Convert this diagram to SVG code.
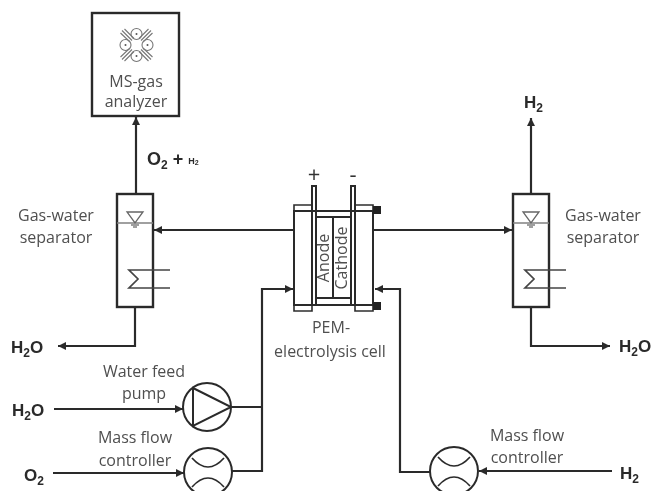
<svg xmlns="http://www.w3.org/2000/svg" width="654" height="491" viewBox="0 0 654 491">
<style>
.l{fill:none;stroke:#2b2b2b;stroke-width:2.4}
.t{fill:none;stroke:#2b2b2b;stroke-width:2}
.g{fill:none;stroke:#808080;stroke-width:1.3}
.a{fill:none;stroke:#2b2b2b;stroke-width:2.2;marker-end:url(#arr)}
text{font-family:"Open Sans","Liberation Sans",sans-serif;font-size:16px;fill:#4f4f4f;text-anchor:middle}
.b{font-family:"Liberation Sans",sans-serif;font-weight:bold;font-size:17px;fill:#2b2b2b;text-anchor:start}
</style>
<defs>
<marker id="arr" markerUnits="userSpaceOnUse" markerWidth="10" markerHeight="10" refX="8" refY="4" orient="auto"><path d="M0 0L8 4L0 8Z" fill="#2b2b2b"/></marker>
<g id="sep">
<rect class="l" x="0" y="0" width="36" height="113"/>
<path class="g" d="M0 29H36"/>
<path d="M10 18H26L18 29Z" fill="none" stroke="#666" stroke-width="1.300"/>
<path class="g" d="M14 31H22M16 33H20"/>
<path d="M53 76H12L21 85L12 94H53" fill="none" stroke="#444" stroke-width="1.700"/>
</g>
<g id="mfc">
<circle class="t" cx="0" cy="0" r="24"/>
<path class="t" d="M-16 -14Q-8 -5 0 -5T16 -14M-16 15Q-8 6 0 6T16 15" style="stroke-width:1.700"/>
</g>
<filter id="soft" filterUnits="userSpaceOnUse" x="0" y="0" width="654" height="491"><feGaussianBlur stdDeviation="0.35"/></filter>
</defs>
<rect width="654" height="491" fill="#fff"/>
<g filter="url(#soft)">
<g id="connectors">
<path class="a" d="M136 195V117"/>
<path class="a" d="M294 230H154"/>
<path class="a" d="M373 230H512"/>
<path class="a" d="M531 194V118"/>
<path class="a" d="M135 307V346H58"/>
<path class="a" d="M531 307V346H610"/>
<path class="a" d="M54 409H183"/>
<path class="a" d="M53 473H184"/>
<path class="a" d="M232 407H262M232 471H262V289H293"/>
<path class="a" d="M612 471H479"/>
<path class="a" d="M430 472H400V289H375"/>
</g>
<g id="ms-analyzer">
<rect class="l" x="92" y="13" width="87" height="103"/>
<g fill="none" stroke="#777" stroke-width="1.100">
<circle cx="136.500" cy="34" r="5.500"/><circle cx="136.500" cy="56" r="5.500"/><circle cx="125.500" cy="45" r="5.500"/><circle cx="147.500" cy="45" r="5.500"/>
<path d="M122 30.500L132 40.500M124.500 29L134 38.500M120.500 33L130 42M151 30.500L141 40.500M148.500 29L139 38.500M152.500 33L143 42M122 59.500L132 49.500M124.500 61L134 51.500M120.500 57L130 48M151 59.500L141 49.500M148.500 61L139 51.500M152.500 57L143 48"/>
</g>
<g fill="#555"><circle cx="136.500" cy="34" r="1"/><circle cx="136.500" cy="56" r="1"/><circle cx="125.500" cy="45" r="1"/><circle cx="147.500" cy="45" r="1"/></g>
<text x="136" y="87">MS-gas</text>
<text x="136" y="107">analyzer</text>
</g>
<g id="o2-h2-label"><text class="b" x="147" y="165" style="font-size:18px">O<tspan font-size="12" dy="4">2</tspan><tspan dy="-4"> + </tspan><tspan font-size="9" dy="-1">H</tspan><tspan font-size="7" dy="1">2</tspan></text></g>
<g id="separator-left">
<use href="#sep" x="117" y="194"/>
<text x="56" y="221">Gas-water</text>
<text x="56" y="243">separator</text>
</g>
<g id="separator-right">
<use href="#sep" x="513" y="194"/>
<text x="603" y="221">Gas-water</text>
<text x="603" y="243">separator</text>
</g>
<g id="electrolysis-cell">
<path class="t" d="M294 211H312V305H294ZM355 211H373V305H355Z"/>
<path class="t" d="M294 205H312V211H294ZM355 205H373V211H355ZM294 305H312V311H294ZM355 305H373V311H355Z" style="stroke-width:1.600"/>
<path class="t" d="M294 211H373M294 305H373"/>
<path class="t" d="M316 217H351V298H316ZM316 298V305M351 298V305M333 217V298"/>
<path class="t" d="M312 186H316V305H312ZM351 186H355V305H351Z"/>
<rect x="373" y="206" width="8" height="8" fill="#222"/>
<rect x="373" y="302" width="8" height="8" fill="#222"/>
<text x="329" y="258" transform="rotate(-90 329 258)">Anode</text>
<text x="347" y="258" transform="rotate(-90 347 258)">Cathode</text>
<text x="314" y="182" style="font-size:22px;fill:#333">+</text>
<text x="353" y="182" style="font-size:22px;fill:#333">-</text>
<text x="331" y="333">PEM-</text>
<text x="330" y="357">electrolysis cell</text>
</g>
<g id="h2-top"><text class="b" x="524" y="108">H<tspan font-size="12" dy="4">2</tspan></text></g>
<g id="h2o-left"><text class="b" x="11" y="353">H<tspan font-size="12" dy="4">2</tspan><tspan dy="-4">O</tspan></text></g>
<g id="h2o-right"><text class="b" x="619" y="352">H<tspan font-size="12" dy="4">2</tspan><tspan dy="-4">O</tspan></text></g>
<g id="pump">
<circle class="t" cx="207" cy="407" r="24"/>
<path class="t" d="M193 388L231 407L193 426Z"/>
<text x="144" y="377">Water feed</text>
<text x="144" y="399">pump</text>
</g>
<g id="h2o-in"><text class="b" x="12" y="416">H<tspan font-size="12" dy="4">2</tspan><tspan dy="-4">O</tspan></text></g>
<g id="mfc-o2">
<use href="#mfc" x="208" y="472"/>
<text x="135" y="443">Mass flow</text>
<text x="135" y="466">controller</text>
</g>
<g id="o2-in"><text class="b" x="24" y="481">O<tspan font-size="12" dy="4">2</tspan></text></g>
<g id="mfc-h2">
<use href="#mfc" x="454" y="471"/>
<text x="527" y="441">Mass flow</text>
<text x="527" y="463">controller</text>
</g>
<g id="h2-in"><text class="b" x="620" y="479">H<tspan font-size="12" dy="4">2</tspan></text></g>
</g>
</svg>
